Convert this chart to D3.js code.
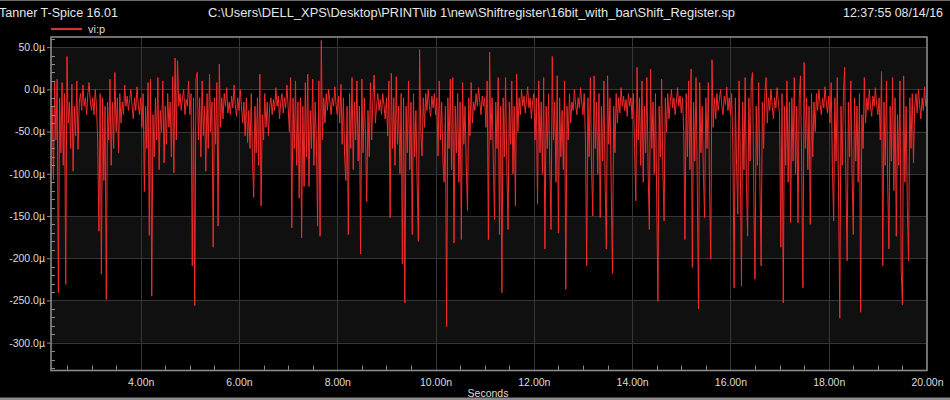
<!DOCTYPE html>
<html><head><meta charset="utf-8">
<script src="https://cdn.jsdelivr.net/npm/d3@7/dist/d3.min.js"></script>
<style>body{margin:0;background:#000}svg{display:block}</style>
</head><body>
<svg id="c" width="950" height="400"></svg>
<script>
const titleLeft = "Tanner T-Spice 16.01";
const titlePath = "C:\\Users\\DELL_XPS\\Desktop\\PRINT\\lib 1\\new\\Shiftregister\\16bit_with_bar\\Shift_Register.sp";
const titleDate = "12:37:55 08/14/16";
const seriesName = "vi:p";
const xLabel = "Seconds";
const xTicks = [4, 6, 8, 10, 12, 14, 16, 18, 20];
const yTicks = [50, 0, -50, -100, -150, -200, -250, -300];
const dt = 0.025; // ns sample step
// values in µ, one array per nanosecond window
const windowStarts = [2.2, 3, 4, 5, 6, 7, 8, 9, 10, 11, 12, 13, 14, 15, 16, 17, 18, 19];
const w02 = [-20,-107,10,-60,12,-241,-10,-75,8,-90,-5,-231,39,-40,-15,-70,6,-97,-20,-55,10,-71,-15,-5,-25,5,-20,-10,-30,-5,8,-15];
const w03 = [-25,-10,-30,0,-20,-60,-168,-5,-219,-10,-108,-20,-249,-15,-60,12,-90,-15,-70,20,-50,-10,-75,-5,-40,-15,-30,5,-20,-8,-25,-12,0,-20,-35,-10,-25,3,-18,-30];
const w04 = [-10,-45,-5,-121,-20,-70,8,-173,12,-245,-30,-80,-10,-60,14,-95,-25,-50,10,-87,-20,-65,-5,-45,-15,-80,15,-99,37,-60,34,-20,-5,-25,-10,0,-30,-12,-20,10];
const w05 = [-30,-5,-209,-10,-256,12,20,-60,-10,-80,10,-55,-20,-97,-5,-70,18,-50,-15,-187,-10,-65,8,-162,30,-45,-10,-35,-5,-20,2,-28,-15,-30,-8,-22,5,-18,-32,-10];
const w06 = [-25,0,-20,-40,-15,-55,-10,-63,-25,-70,-5,-85,-128,-20,-75,-10,-90,18,-138,-30,-60,-5,-45,-15,-55,-20,-10,-30,-12,-25,2,-20,-8,-35,-15,-5,-28,-10,-22,5];
const w07 = [-20,-50,14,-164,-10,-70,10,-90,-15,-129,-10,-176,-20,-115,8,-80,18,-115,-25,-70,12,-90,-15,-60,-162,10,-174,58,-60,-10,-40,-5,-25,0,-15,-30,-10,-20,3,-18];
const w08 = [-30,-8,-40,6,-65,-10,-80,-108,-20,-172,-5,-70,14,-95,-15,-60,10,-85,-20,-195,12,-75,-10,-55,-133,-25,-80,8,-60,-10,17,-40,-20,-5,-25,-12,-30,-5,-18,-35];
const w09 = [-10,-55,10,-152,19,-70,-10,-90,15,-65,-20,-100,-5,-207,-10,-253,-20,-75,10,-95,-15,-172,-5,-80,-25,-110,-180,47,-50,-79,-10,-45,-5,-25,0,-20,-32,-8,-22,-5];
const w10 = [-30,-10,-79,10,-60,-15,-85,-110,-20,-281,-10,-70,12,-95,14,-182,-20,-75,-5,-110,-15,-178,8,-65,-20,-90,-144,-10,-55,8,-40,-15,-25,-5,-20,2,-15,-30,-8,-20];
const w11 = [-10,-45,10,-178,44,-60,-10,-85,-154,-15,-70,14,-172,-20,-241,-10,-80,14,-90,-166,-15,-65,10,-100,-20,-138,18,-50,-10,-30,0,-20,-8,-28,-12,3,-22,-10,-35,-15];
const w12 = [-5,-60,-10,-136,10,-75,-15,-100,14,-189,-20,-70,-5,-90,-166,39,-60,-15,-110,16,-170,-10,-80,-25,-95,10,-237,-20,-60,-5,-40,-15,-25,0,-18,-30,-10,-22,2,-15];
const w13 = [-30,-5,-60,-209,-10,-80,14,-95,-150,16,-70,-15,-100,-5,-152,-20,-85,10,-110,-189,16,-65,-10,-120,-218,-20,-75,-5,-40,-10,-28,2,-20,-8,-25,-12,-32,-5,-20,-10];
const w14 = [-35,-5,-70,-132,26,-60,-10,-90,10,-110,-20,-75,14,-95,-166,24,-70,-15,-100,-5,-130,-251,-20,-80,12,-95,-156,-10,-50,-5,-35,-15,0,-22,-10,-30,-15,2,-20,-8];
const w15 = [-28,-10,-50,-178,-5,-80,10,-95,24,-211,-15,-85,14,-110,-260,8,-75,-20,-100,-152,-10,-70,8,-118,-201,35,-45,-10,-35,-5,-25,-12,0,-20,-30,-8,-18,3,-25,-10];
const w16 = [-30,-5,-70,-235,-10,-90,-148,10,-80,-233,-15,-95,14,-110,-174,-10,-85,10,20,-120,-225,-20,-90,8,-110,-209,-15,-70,-5,14,-40,-10,-25,0,-20,-35,-10,-22,2,-15];
const w17 = [-30,-187,-5,-253,-20,-90,10,-110,-15,-158,-10,-85,14,-100,-20,-158,-10,16,-90,-235,32,-70,-10,-95,-20,-160,-5,-80,-15,-50,-5,-25,0,-18,-30,-10,-22,3,-15,-28];
const w18 = [-8,-40,8,-90,-156,-10,-85,14,-120,-271,-20,-90,-5,26,-110,-203,-15,-80,10,-100,-172,-10,-85,-20,-110,-5,-264,-30,-70,14,-40,-10,-25,0,-20,-32,-8,-20,2,-18];
const w19 = [-30,-10,-60,21,-209,-15,-90,10,-110,-189,-20,-85,14,-120,-10,-174,-30,-90,10,-215,-255,16,-110,-20,-140,-203,-10,-70,-5,-87,-20,-5,-28,0,-18,-35,-10,-25,3,-20,-12];
const windows = [w02,w03,w04,w05,w06,w07,w08,w09,w10,w11,w12,w13,w14,w15,w16,w17,w18,w19];

const data = [];
windows.forEach((arr, k) => arr.forEach((v, j) => data.push({t: windowStarts[k] + j * dt, v})));

const svg = d3.select("#c");
const W = 950, H = 400;
const L = 51, R = 927, T = 37, B = 370.5;
const font = "'Liberation Sans', Arial, sans-serif";
svg.append("rect").attr("width", W).attr("height", H).attr("fill", "#000");

const x = d3.scaleLinear().domain([2.175, 20]).range([L, R]);
const y = d3.scaleLinear().domain([-333, 62]).range([B, T]);

// alternating bands
const bands = [];
for (let i = 0; i + 1 < yTicks.length; i += 2) bands.push([yTicks[i], yTicks[i + 1]]);
svg.append("g").selectAll("rect").data(bands).join("rect")
  .attr("x", L).attr("width", R - L)
  .attr("y", d => y(d[0])).attr("height", d => y(d[1]) - y(d[0]))
  .attr("fill", "#101010");

// grid
const grid = svg.append("g").attr("stroke", "#363636").attr("stroke-width", 1);
grid.selectAll("line.h").data(yTicks).join("line").attr("class", "h")
  .attr("x1", L).attr("x2", R).attr("y1", d => Math.round(y(d)) + 0.5).attr("y2", d => Math.round(y(d)) + 0.5);
grid.selectAll("line.v").data(xTicks.filter(d => d < 20)).join("line").attr("class", "v")
  .attr("y1", T).attr("y2", B).attr("x1", d => Math.round(x(d)) + 0.5).attr("x2", d => Math.round(x(d)) + 0.5);

// trace
svg.append("path").datum(data)
  .attr("fill", "none").attr("stroke", "#f02a2a").attr("stroke-width", 1)
  .attr("stroke-linejoin", "miter")
  .attr("d", d3.line().x(d => x(d.t)).y(d => y(d.v)));

// frame
svg.append("rect").attr("x", L).attr("y", T).attr("width", R - L).attr("height", B - T)
  .attr("fill", "none").attr("stroke", "#8a8a8a").attr("stroke-width", 1.6);

// minor ticks
const xMinor = d3.range(2.5, 20, 0.5).filter(d => !xTicks.includes(d));
svg.append("g").attr("stroke", "#8a8a8a").selectAll("line").data(xMinor).join("line")
  .attr("x1", d => Math.round(x(d)) + 0.5).attr("x2", d => Math.round(x(d)) + 0.5)
  .attr("y1", B).attr("y2", B - 5);
const yMinor = d3.range(-330, 61, 10).filter(d => !yTicks.includes(d));
svg.append("g").attr("stroke", "#8a8a8a").selectAll("line").data(yMinor).join("line")
  .attr("y1", d => Math.round(y(d)) + 0.5).attr("y2", d => Math.round(y(d)) + 0.5)
  .attr("x1", L).attr("x2", L + 4);

// axes
const yAxis = svg.append("g").attr("transform", `translate(${L},0)`)
  .call(d3.axisLeft(y).tickValues(yTicks).tickSize(4).tickPadding(2).tickFormat(d => d.toFixed(1) + "µ"));
yAxis.select(".domain").remove();
yAxis.selectAll("line").attr("stroke", "#8a8a8a");
yAxis.selectAll("text").attr("fill", "#dcdcdc").style("font", `10.5px ${font}`);

const xAxis = svg.append("g").attr("transform", `translate(0,${B})`)
  .call(d3.axisBottom(x).tickValues(xTicks).tickSize(0).tickPadding(8).tickFormat(d => d.toFixed(2) + "n"));
xAxis.select(".domain").remove();
xAxis.selectAll("text").attr("fill", "#dcdcdc").style("font", `10.5px ${font}`);

svg.append("text").attr("x", 488).attr("y", 397).attr("text-anchor", "middle")
  .attr("fill", "#dcdcdc").style("font", `10.5px ${font}`).text(xLabel);

// legend
svg.append("line").attr("x1", L).attr("x2", 82).attr("y1", 29).attr("y2", 29)
  .attr("stroke", "#d03434").attr("stroke-width", 2.2);
svg.append("text").attr("x", 88).attr("y", 33).attr("fill", "#dcdcdc")
  .style("font", `11px ${font}`).text(seriesName);

// title bar
svg.append("text").attr("x", -1).attr("y", 17).attr("fill", "#e6e6e6").style("font", `12.5px ${font}`)
  .attr("textLength", 119).attr("lengthAdjust", "spacingAndGlyphs").text(titleLeft);
svg.append("text").attr("x", 208).attr("y", 17).attr("fill", "#e6e6e6").style("font", `12.5px ${font}`)
  .attr("textLength", 527).attr("lengthAdjust", "spacingAndGlyphs").text(titlePath);
svg.append("text").attr("x", 843).attr("y", 17).attr("fill", "#e6e6e6").style("font", `12.5px ${font}`)
  .attr("textLength", 100).attr("lengthAdjust", "spacingAndGlyphs").text(titleDate);

// window borders
svg.append("rect").attr("x", 0).attr("y", 0).attr("width", W).attr("height", 1).attr("fill", "#6a6a6a");
svg.append("rect").attr("x", 0).attr("y", 397.5).attr("width", W).attr("height", 2.5).attr("fill", "#8a8a8a");
</script>
</body></html>
